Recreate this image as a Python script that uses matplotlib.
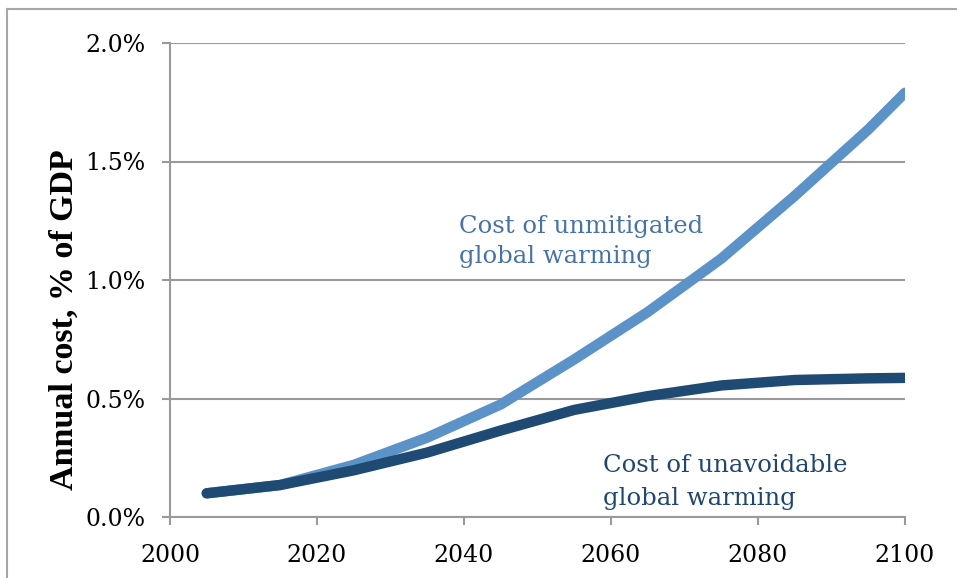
import matplotlib
matplotlib.use("Agg")
import matplotlib.pyplot as plt
from matplotlib.lines import Line2D
from matplotlib.ticker import FuncFormatter

years = [2005, 2015, 2025, 2035, 2045, 2055, 2065, 2075, 2085, 2095, 2100]
unmitigated = [0.10, 0.135, 0.22, 0.335, 0.475, 0.665, 0.865, 1.09, 1.355, 1.635, 1.79]
unavoidable = [0.10, 0.135, 0.197, 0.272, 0.365, 0.452, 0.51, 0.555, 0.578, 0.585, 0.587]
xticks = [2000, 2020, 2040, 2060, 2080, 2100]
yticks = [0.0, 0.5, 1.0, 1.5, 2.0]

light = "#5b92c7"
dark = "#1f4a74"
grid = "#9a9a9a"

fig = plt.figure(figsize=(9.57, 5.78), dpi=100)
ax = fig.add_axes([170/957, (578-517)/578, (905-170)/957, (517-43)/578])

ax.plot(years, unmitigated, color=light, lw=7.5, solid_capstyle="round", solid_joinstyle="round")
ax.plot(years, unavoidable, color=dark, lw=7.5, solid_capstyle="round", solid_joinstyle="round")

ax.set_xlim(2000, 2100)
ax.set_ylim(0, 2.0)
ax.set_xticks(xticks)
ax.set_yticks(yticks)
ax.yaxis.set_major_formatter(FuncFormatter(lambda v, p: f"{v:.1f}%"))

ax.grid(axis="y", color=grid, lw=1.5)
ax.set_axisbelow(True)
for s in ["top", "right"]:
    ax.spines[s].set_visible(False)
for s in ["left", "bottom"]:
    ax.spines[s].set_color(grid)
    ax.spines[s].set_linewidth(1.5)
ax.tick_params(axis="both", colors=grid, width=1.5, length=5.5, labelcolor="black")
ax.tick_params(axis="y", pad=12)
ax.tick_params(axis="x", pad=14)
for lab in ax.get_xticklabels() + ax.get_yticklabels():
    lab.set_family("DejaVu Serif")
    lab.set_fontsize(17)

fig.text(64/957, 1 - 320/578, "Annual cost, % of GDP", rotation=90, ha="center", va="center",
         family="Liberation Serif", fontweight="bold", fontsize=24.5)

tfont = dict(family="DejaVu Serif", fontsize=17.5, va="baseline", ha="left")
ax.text(2039.3, 1.199, "Cost of unmitigated", color="#4672a8", **tfont)
ax.text(2039.3, 1.072, "global warming", color="#4672a8", **tfont)
ax.text(2058.9, 0.191, "Cost of unavoidable", color="#1f4670", **tfont)
ax.text(2058.9, 0.05, "global warming", color="#1f4670", **tfont)

# outer frame (left and top edges)
fig.add_artist(Line2D([7/957, 7/957], [0, 1 - 9/578], transform=fig.transFigure, color="#a6a6a6", lw=1.5))
fig.add_artist(Line2D([7/957, 1], [1 - 9/578, 1 - 9/578], transform=fig.transFigure, color="#a6a6a6", lw=1.5))

fig.savefig("out.png", dpi=100)
